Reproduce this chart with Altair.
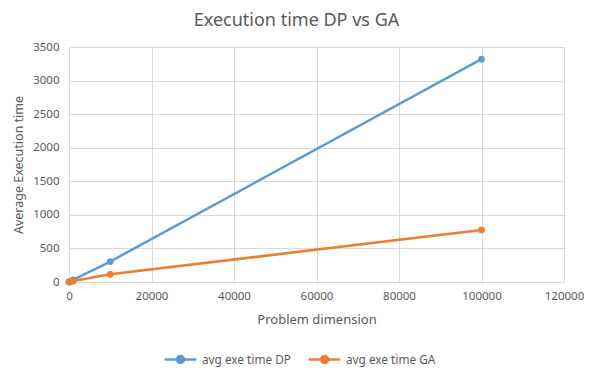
import altair as alt
import pandas as pd

dims = [10, 100, 1000, 10000, 100000]
dp_times = [0.5, 2, 33, 305, 3318]
ga_times = [3, 6, 14, 115, 775]
series_names = ["avg exe time DP", "avg exe time GA"]
colors = ["#5b9bd5", "#ed7d31"]

rows = []
for d, v in zip(dims, dp_times):
    rows.append({"dim": d, "time": v, "series": series_names[0]})
for d, v in zip(dims, ga_times):
    rows.append({"dim": d, "time": v, "series": series_names[1]})
df = pd.DataFrame(rows)

FONT = "Noto Sans"
GRAY = "#595959"

color = alt.Color(
    "series:N",
    scale=alt.Scale(domain=series_names, range=colors),
    legend=alt.Legend(
        title=None,
        orient="none",
        direction="horizontal",
        legendX=94,
        legendY=295,
        symbolType="M-1,0L1,0M-0.22,0A0.22,0.22 0 1,1 0.22,0A0.22,0.22 0 1,1 -0.22,0",
        symbolSize=1000,
        symbolStrokeWidth=2.5,
        labelFont=FONT,
        labelFontSize=11.8,
        labelColor=GRAY,
        labelOffset=4,
        columnPadding=12,
    ),
)

x = alt.X(
    "dim:Q",
    scale=alt.Scale(domain=[0, 120000], nice=False),
    axis=alt.Axis(values=[0, 20000, 40000, 60000, 80000, 100000, 120000], format="d",
                  title="Problem dimension"),
)
y = alt.Y(
    "time:Q",
    scale=alt.Scale(domain=[0, 3500], nice=False),
    axis=alt.Axis(values=list(range(0, 3501, 500)), format="d",
                  title="Average Execution time"),
)

base = alt.Chart(df).encode(x=x, y=y, color=color, order="dim:Q")
lines = base.mark_line(strokeWidth=2.5)
points = base.mark_circle(size=45, opacity=1)

chart = (
    alt.layer(lines, points)
    .properties(
        width=495,
        height=235,
        title=alt.TitleParams("Execution time DP vs GA", font=FONT, fontSize=18,
                              fontWeight="normal", color=GRAY, offset=11, dx=-20),
        autosize=alt.AutoSizeParams(type="none"),
        padding={"left": 61, "top": 39, "right": 20, "bottom": 86},
    )
    .configure_view(stroke=None)
    .configure_axis(
        grid=True,
        gridColor="#d9d9d9",
        domain=False,
        ticks=False,
        labelFont=FONT,
        labelFontSize=11.5,
        labelColor=GRAY,
        labelFlush=False,
        titleFont=FONT,
        titleFontWeight="normal",
        titleColor=GRAY,
    )
    .configure_axisX(labelPadding=8, titlePadding=12, titleFontSize=13,
                     domain=True, domainColor="#d9d9d9")
    .configure_axisY(labelPadding=10, titlePadding=7, titleFontSize=12.5)
)

chart.save("out.html", embed_options={"renderer": "svg", "actions": False})
